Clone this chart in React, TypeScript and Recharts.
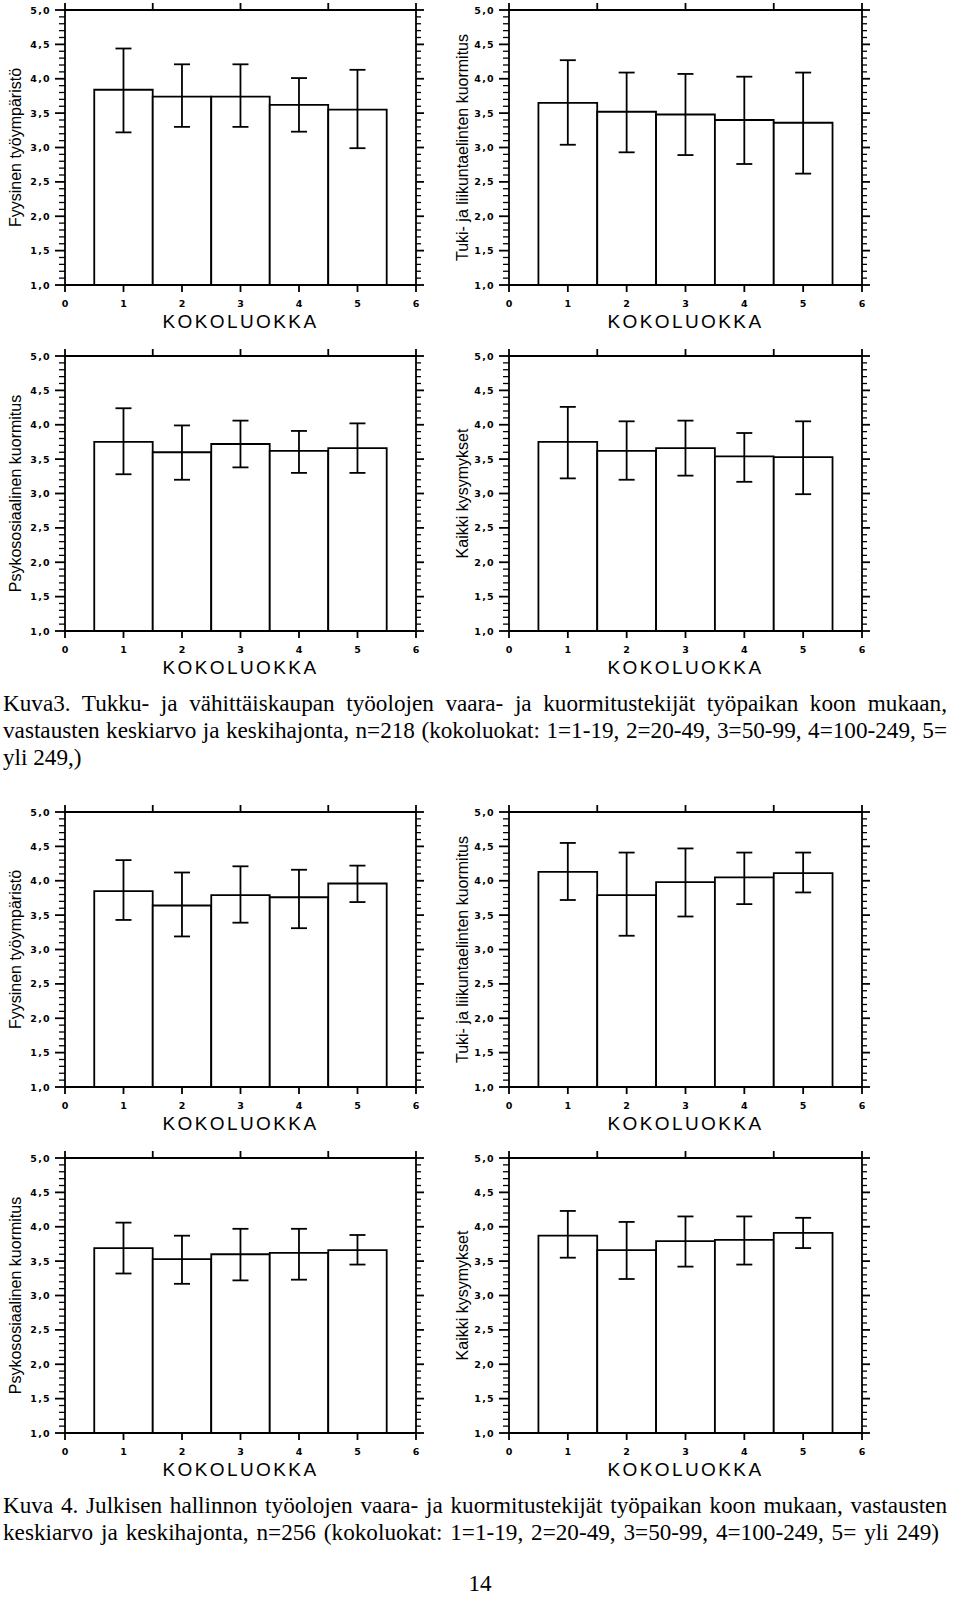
import React from 'react';
import { BarChart, Bar, XAxis, YAxis, ErrorBar, Label } from 'recharts';

// ---------- categories / ticks ----------
const CATEGORIES = [1, 2, 3, 4, 5];
const X_TICKS = [0, 1, 2, 3, 4, 5, 6];
const Y_MAJOR = [1.0, 1.5, 2.0, 2.5, 3.0, 3.5, 4.0, 4.5, 5.0];
const Y_ALL = Array.from({ length: 41 }, (_, i) => Math.round((1 + i * 0.1) * 10) / 10);

// ---------- titles ----------
const X_TITLE = 'KOKOLUOKKA';
const T_FYYS = 'Fyysinen työympäristö';
const T_TUKI = 'Tuki- ja liikuntaelinten kuormitus';
const T_PSYK = 'Psykososiaalinen kuormitus';
const T_KAIKKI = 'Kaikki kysymykset';

// ---------- Kuva 3 (Tukku- ja vähittäiskauppa) ----------
const k3FyysMean = [3.84, 3.74, 3.74, 3.62, 3.55];
const k3FyysLow = [3.22, 3.3, 3.3, 3.23, 2.99];
const k3FyysHigh = [4.44, 4.21, 4.21, 4.01, 4.13];

const k3TukiMean = [3.65, 3.52, 3.48, 3.4, 3.36];
const k3TukiLow = [3.04, 2.93, 2.89, 2.76, 2.62];
const k3TukiHigh = [4.27, 4.09, 4.07, 4.03, 4.09];

const k3PsykMean = [3.75, 3.6, 3.72, 3.62, 3.66];
const k3PsykLow = [3.28, 3.2, 3.38, 3.3, 3.3];
const k3PsykHigh = [4.24, 3.99, 4.06, 3.91, 4.02];

const k3KaikkiMean = [3.75, 3.62, 3.66, 3.54, 3.53];
const k3KaikkiLow = [3.22, 3.2, 3.26, 3.17, 2.99];
const k3KaikkiHigh = [4.26, 4.05, 4.06, 3.88, 4.05];

// ---------- Kuva 4 (Julkinen hallinto) ----------
const k4FyysMean = [3.85, 3.64, 3.79, 3.76, 3.96];
const k4FyysLow = [3.43, 3.19, 3.39, 3.31, 3.69];
const k4FyysHigh = [4.3, 4.12, 4.21, 4.16, 4.22];

const k4TukiMean = [4.13, 3.79, 3.98, 4.05, 4.11];
const k4TukiLow = [3.72, 3.2, 3.48, 3.66, 3.83];
const k4TukiHigh = [4.55, 4.41, 4.47, 4.41, 4.41];

const k4PsykMean = [3.69, 3.53, 3.6, 3.62, 3.66];
const k4PsykLow = [3.32, 3.17, 3.22, 3.23, 3.45];
const k4PsykHigh = [4.06, 3.87, 3.97, 3.97, 3.88];

const k4KaikkiMean = [3.87, 3.66, 3.79, 3.81, 3.91];
const k4KaikkiLow = [3.55, 3.24, 3.42, 3.45, 3.69];
const k4KaikkiHigh = [4.23, 4.07, 4.15, 4.15, 4.13];

// ---------- captions ----------
const CAP3_L1 = 'Kuva3. Tukku- ja vähittäiskaupan työolojen vaara- ja kuormitustekijät työpaikan koon mukaan,';
const CAP3_L2 = 'vastausten keskiarvo ja keskihajonta, n=218 (kokoluokat: 1=1-19, 2=20-49, 3=50-99, 4=100-249, 5=';
const CAP3_L3 = 'yli 249,)';
const CAP4_L1 = 'Kuva 4. Julkisen hallinnon työolojen vaara- ja kuormitustekijät työpaikan koon mukaan, vastausten';
const CAP4_L2 = 'keskiarvo ja keskihajonta, n=256 (kokoluokat: 1=1-19, 2=20-49, 3=50-99, 4=100-249, 5= yli 249)';
const PAGE_NO = '14';

// ---------- styling ----------
const INK = '#000';
const LW = 1.8;
const AXIS_LINE = { stroke: INK, strokeWidth: LW };
const TICK_FONT = { fontFamily: 'DejaVu Sans', fontSize: 9.5, fontWeight: 700, letterSpacing: 1.3, fill: INK } as const;

const isMajor = (v: number) => Y_MAJOR.some((m) => Math.abs(m - v) < 1e-6);
const fmt = (v: number) => v.toFixed(1).replace('.', ',');

const LeftTick = (p: any) => {
  const v = p.payload.value;
  const major = isMajor(v);
  const len = major ? 10 : 6;
  return (
    <g>
      <line x1={p.x - len} y1={p.y} x2={p.x} y2={p.y} stroke={INK} strokeWidth={major ? LW : 1.3} />
      {major && (
        <text x={p.x - 14} y={p.y} textAnchor="end" dominantBaseline="central" {...TICK_FONT}>
          {fmt(v)}
        </text>
      )}
    </g>
  );
};

const RightTick = (p: any) => {
  const v = p.payload.value;
  const major = isMajor(v);
  const len = major ? 8 : 5;
  return <line x1={p.x} y1={p.y} x2={p.x + len} y2={p.y} stroke={INK} strokeWidth={major ? LW : 1.3} />;
};

const BottomTick = (p: any) => (
  <g>
    <line x1={p.x} y1={p.y} x2={p.x} y2={p.y + 7} stroke={INK} strokeWidth={LW} />
    <text x={p.x} y={p.y + 18} textAnchor="middle" dominantBaseline="central" {...TICK_FONT} letterSpacing={0}>
      {String(p.payload.value)}
    </text>
  </g>
);

const TopTick = (p: any) => <line x1={p.x} y1={p.y} x2={p.x} y2={p.y - 7} stroke={INK} strokeWidth={LW} />;

const xTitle = (props: any) => {
  const { x, y, width, height } = props.viewBox;
  return (
    <text
      x={x + width / 2}
      y={y + height + 28}
      textAnchor="middle"
      dominantBaseline="hanging"
      fontFamily="Liberation Sans"
      fontSize={19}
      letterSpacing={2.4}
      fill={INK}
    >
      {X_TITLE}
    </text>
  );
};

const makeYTitle = (title: string, off: number) => (props: any) => {
  const { x, y, height } = props.viewBox;
  const cx = x - off;
  const cy = y + height / 2;
  return (
    <text
      x={cx}
      y={cy}
      transform={`rotate(-90, ${cx}, ${cy})`}
      textAnchor="middle"
      dominantBaseline="central"
      fontFamily="Liberation Sans"
      fontSize={16}
      fill={INK}
    >
      {title}
    </text>
  );
};

const CH_W = 440;
const CH_H = 340;

type PanelProps = { mean: number[]; low: number[]; high: number[]; title: string; col: number };

function Panel({ mean, low, high, title, col }: PanelProps) {
  const data = CATEGORIES.map((c, i) => ({
    k: c,
    m: mean[i],
    e: [mean[i] - low[i], high[i] - mean[i]],
  }));
  const margin = col === 0 ? { top: 9, left: 64, right: 23, bottom: 54 } : { top: 9, left: 68, right: 17, bottom: 54 };
  const plotW = CH_W - margin.left - margin.right - 2;
  const barSize = plotW / 6 - 0.05;
  return (
    <BarChart width={CH_W} height={CH_H} data={data} margin={margin}>
      <XAxis
        xAxisId="b"
        dataKey="k"
        type="number"
        domain={[0, 6]}
        ticks={X_TICKS}
        interval={0}
        height={1}
        tickSize={0}
        tickMargin={0}
        tickLine={false}
        axisLine={AXIS_LINE}
        tick={BottomTick}
        allowDataOverflow
      >
        <Label content={xTitle} />
      </XAxis>
      <XAxis
        xAxisId="t"
        orientation="top"
        type="number"
        domain={[0, 6]}
        ticks={X_TICKS}
        interval={0}
        height={1}
        tickSize={0}
        tickMargin={0}
        tickLine={false}
        axisLine={AXIS_LINE}
        tick={TopTick}
        allowDataOverflow
      />
      <YAxis
        yAxisId="l"
        type="number"
        domain={[1, 5]}
        ticks={Y_ALL}
        interval={0}
        width={1}
        tickSize={0}
        tickMargin={0}
        tickLine={false}
        axisLine={AXIS_LINE}
        tick={LeftTick}
        allowDataOverflow
      >
        <Label content={makeYTitle(title, col === 0 ? 49 : 46)} />
      </YAxis>
      <YAxis
        yAxisId="r"
        orientation="right"
        type="number"
        domain={[1, 5]}
        ticks={Y_ALL}
        interval={0}
        width={1}
        tickSize={0}
        tickMargin={0}
        tickLine={false}
        axisLine={AXIS_LINE}
        tick={RightTick}
        allowDataOverflow
      />
      <Bar
        xAxisId="b"
        yAxisId="l"
        dataKey="m"
        barSize={barSize}
        fill="#fff"
        stroke={INK}
        strokeWidth={LW}
        isAnimationActive={false}
      >
        <ErrorBar dataKey="e" direction="y" width={8} stroke={INK} strokeWidth={LW} />
      </Bar>
    </BarChart>
  );
}

const ROW_TOPS = [0, 346, 802, 1148];
const COL_LEFTS = [0, 440];

const capStyle: React.CSSProperties = {
  position: 'absolute',
  left: 3,
  width: 944,
  fontFamily: 'Liberation Serif',
  fontSize: 23.2,
  lineHeight: '26px',
  whiteSpace: 'nowrap',
  color: INK,
};
const just: React.CSSProperties = { textAlign: 'justify', textAlignLast: 'justify' };

export default function App() {
  const panels = [
    { row: 0, col: 0, mean: k3FyysMean, low: k3FyysLow, high: k3FyysHigh, title: T_FYYS },
    { row: 0, col: 1, mean: k3TukiMean, low: k3TukiLow, high: k3TukiHigh, title: T_TUKI },
    { row: 1, col: 0, mean: k3PsykMean, low: k3PsykLow, high: k3PsykHigh, title: T_PSYK },
    { row: 1, col: 1, mean: k3KaikkiMean, low: k3KaikkiLow, high: k3KaikkiHigh, title: T_KAIKKI },
    { row: 2, col: 0, mean: k4FyysMean, low: k4FyysLow, high: k4FyysHigh, title: T_FYYS },
    { row: 2, col: 1, mean: k4TukiMean, low: k4TukiLow, high: k4TukiHigh, title: T_TUKI },
    { row: 3, col: 0, mean: k4PsykMean, low: k4PsykLow, high: k4PsykHigh, title: T_PSYK },
    { row: 3, col: 1, mean: k4KaikkiMean, low: k4KaikkiLow, high: k4KaikkiHigh, title: T_KAIKKI },
  ];
  return (
    <div style={{ position: 'absolute', left: 0, top: 0, width: 960, height: 1601, background: '#fff', overflow: 'hidden' }}>
      {panels.map((p, i) => (
        <div key={i} style={{ position: 'absolute', left: COL_LEFTS[p.col], top: ROW_TOPS[p.row] }}>
          <Panel mean={p.mean} low={p.low} high={p.high} title={p.title} col={p.col} />
        </div>
      ))}
      <div style={{ ...capStyle, ...just, top: 690 }}>{CAP3_L1}</div>
      <div style={{ ...capStyle, ...just, top: 717 }}>{CAP3_L2}</div>
      <div style={{ ...capStyle, top: 744 }}>{CAP3_L3}</div>
      <div style={{ ...capStyle, ...just, top: 1492 }}>{CAP4_L1}</div>
      <div style={{ ...capStyle, ...just, width: 936, top: 1519 }}>{CAP4_L2}</div>
      <div style={{ ...capStyle, left: 0, width: 960, textAlign: 'center', top: 1570 }}>{PAGE_NO}</div>
    </div>
  );
}
